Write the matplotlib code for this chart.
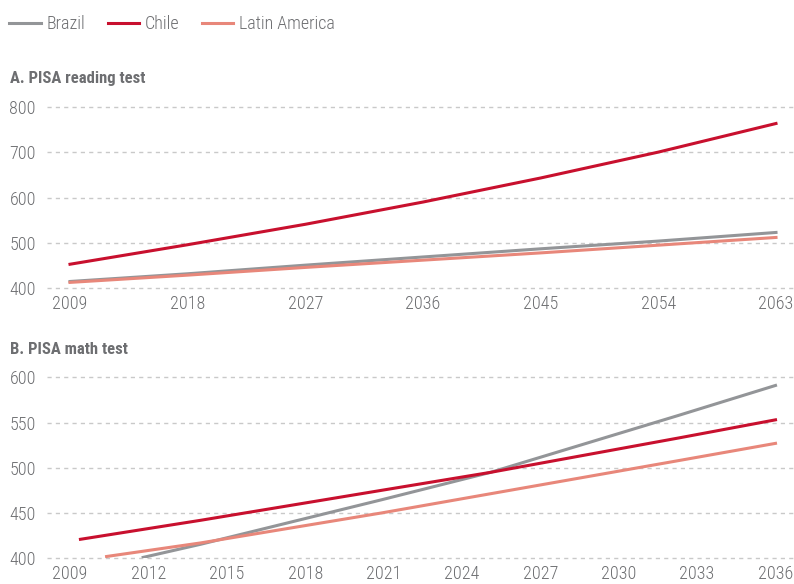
import matplotlib
matplotlib.use("Agg")
import matplotlib.pyplot as plt
from matplotlib import font_manager as fm

# pick a narrow font if one is installed
installed = {f.name for f in fm.fontManager.ttflist}
fams = [f for f in ['Roboto Condensed', 'Liberation Sans Narrow', 'Open Sans Condensed']
        if f in installed]
plt.rcParams['font.family'] = fams + ['DejaVu Sans']
plt.rcParams['font.stretch'] = 'condensed'

# A. PISA reading test
read_years = [2009, 2018, 2027, 2036, 2045, 2054, 2063]
read_brazil = [415, 432, 451, 469, 487, 504, 523]
read_chile = [453, 496, 541, 590, 643, 700, 763]
read_latam = [413, 429, 446, 462, 478, 495, 512]
read_ticks = [2009, 2018, 2027, 2036, 2045, 2054, 2063]

# B. PISA math test
math_brazil_x = [2011.8, 2014, 2020.9, 2025.1, 2032.3, 2036]
math_brazil = [401, 415.5, 464.5, 495, 558, 591]
math_chile_x = [2009.4, 2014, 2020.9, 2025.1, 2032.3, 2036]
math_chile = [421, 442, 475, 495, 533, 553]
math_latam_x = [2010.4, 2014, 2020.9, 2032.3, 2036]
math_latam = [402, 417, 450, 508, 527]
math_ticks = [2009, 2012, 2015, 2018, 2021, 2024, 2027, 2030, 2033, 2036]

gray = '#939598'
red = '#c8102e'
salmon = '#e8877a'
txt = '#6d6e71'
grid = '#c9c9c9'
fs = 13

W, H = 794, 584
fig = plt.figure(figsize=(W / 100, H / 100), dpi=100)


def make_ax(top, bottom):
    return fig.add_axes([47 / W, 1 - bottom / H, (W - 47) / W, (bottom - top) / H])


def style(ax, yticks, xticks):
    for s in ax.spines.values():
        s.set_visible(False)
    ax.set_yticks(yticks)
    ax.set_xticks(xticks)
    ax.set_xticklabels([str(t) for t in xticks])
    ax.tick_params(length=0, labelsize=fs, labelcolor=txt)
    ax.tick_params(axis='y', pad=8)
    ax.tick_params(axis='x', pad=5)
    for lab in ax.get_xticklabels() + ax.get_yticklabels():
        lab.set_fontweight('light')
    for gl in ax.get_ygridlines():
        gl.set_clip_on(False)
    ax.grid(axis='y', color=grid, linestyle=(0, (3, 3)), linewidth=1)
    ax.set_axisbelow(True)


ax1 = make_ax(106.7, 288.3)
ax1.plot(read_years, read_brazil, color=gray, lw=2.2, label='Brazil')
ax1.plot(read_years, read_chile, color=red, lw=2.2, label='Chile')
ax1.plot(read_years, read_latam, color=salmon, lw=2.2, label='Latin America')
ax1.set_ylim(400, 800)
ax1.set_xlim(2009 - 23 / 13.07, 2063 + 18 / 13.07)
style(ax1, [400, 500, 600, 700, 800], read_ticks)

ax2 = make_ax(377.3, 558.3)
ax2.plot(math_brazil_x, math_brazil, color=gray, lw=2.2)
ax2.plot(math_chile_x, math_chile, color=red, lw=2.2)
ax2.plot(math_latam_x, math_latam, color=salmon, lw=2.2)
ax2.set_ylim(400, 600)
ax2.set_xlim(2009 - 23 / 26.13, 2036 + 18.5 / 26.13)
style(ax2, [400, 450, 500, 550, 600], math_ticks)

fig.text(10 / W, 1 - 79 / H, 'A. PISA reading test', fontsize=12, fontweight='bold',
         color=txt, va='center', ha='left')
fig.text(10 / W, 1 - 350 / H, 'B. PISA math test', fontsize=12, fontweight='bold',
         color=txt, va='center', ha='left')

leg = fig.legend(loc='upper left', bbox_to_anchor=(2 / W, 1 - 8 / H), ncol=3, frameon=False,
                 prop={'size': fs, 'weight': 'light'}, handlelength=1.75, handletextpad=0.3,
                 columnspacing=1.25, borderaxespad=0)
for t in leg.get_texts():
    t.set_color(txt)

fig.savefig('out.png', dpi=100)
